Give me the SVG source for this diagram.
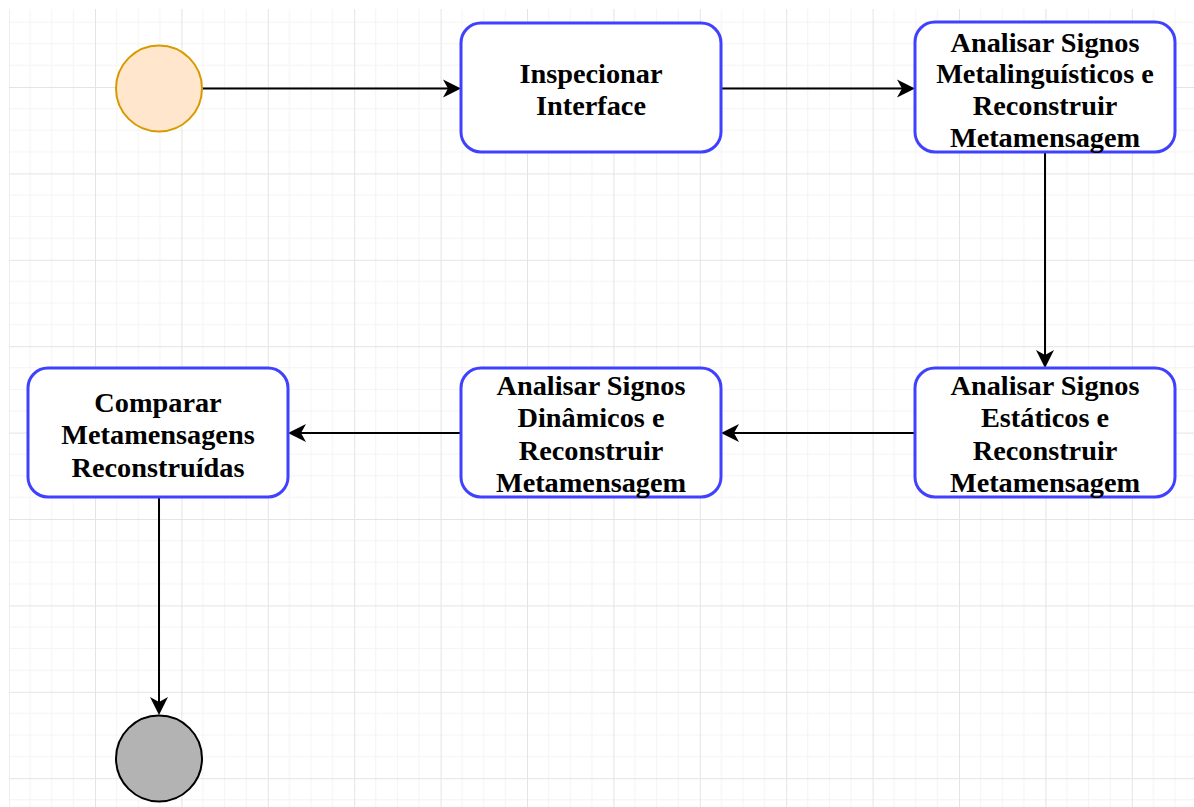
<svg xmlns="http://www.w3.org/2000/svg" width="1194" height="807" viewBox="0 0 1194 807">
<style>
.box{fill:#ffffff;stroke:#4040ff;stroke-width:3}
.lbl{font-family:"Liberation Serif","Times New Roman",serif;font-weight:bold;font-size:28.3px;fill:#000;text-anchor:middle}
.edge{fill:none;stroke:#000;stroke-width:2}
</style>
<defs>
<pattern id="grid" patternUnits="userSpaceOnUse" x="8.6" y="0.6" width="86.4" height="86.4">
<path d="M21.6,0V86.4M43.2,0V86.4M64.8,0V86.4M0,21.6H86.4M0,43.2H86.4M0,64.8H86.4" stroke="#f4f4f4" stroke-width="1" fill="none"/>
<path d="M0.5,0V86.4M0,0.5H86.4" stroke="#e4e4e4" stroke-width="1" fill="none"/>
</pattern>
<marker id="arr" viewBox="-20 -10 22 20" refX="-10" refY="0" markerWidth="22" markerHeight="20" markerUnits="userSpaceOnUse" orient="auto" overflow="visible">
<path d="M0,0 L-18,-9 L-13,0 L-18,9 Z" fill="#000"/>
</marker>
</defs>
<rect width="1194" height="807" fill="#fff"/>
<rect x="9" y="9" width="1185" height="798" fill="url(#grid)"/>
<g id="connectors">
<path class="edge" d="M202,88.5 H451" marker-end="url(#arr)"/>
<path class="edge" d="M721,88.5 H905" marker-end="url(#arr)"/>
<path class="edge" d="M1045,152 V358" marker-end="url(#arr)"/>
<path class="edge" d="M915,433 H731" marker-end="url(#arr)"/>
<path class="edge" d="M461,433 H298" marker-end="url(#arr)"/>
<path class="edge" d="M159,497 V705" marker-end="url(#arr)"/>
</g>
<g id="start">
<circle cx="159" cy="88.5" r="43" fill="#ffe6cc" stroke="#d79b00" stroke-width="2"/>
</g>
<g id="inspecionar">
<rect class="box" x="461" y="23" width="260" height="129" rx="20"/>
<text class="lbl" x="591" y="83">Inspecionar</text>
<text class="lbl" x="591" y="115">Interface</text>
</g>
<g id="metalinguisticos">
<rect class="box" x="915" y="22" width="260" height="130" rx="20"/>
<text class="lbl" x="1045" y="51.5">Analisar Signos</text>
<text class="lbl" x="1045" y="83">Metalinguísticos e</text>
<text class="lbl" x="1045" y="115">Reconstruir</text>
<text class="lbl" x="1045" y="146.5">Metamensagem</text>
</g>
<g id="estaticos">
<rect class="box" x="915" y="368" width="260" height="129" rx="20"/>
<text class="lbl" x="1045" y="395">Analisar Signos</text>
<text class="lbl" x="1045" y="427">Estáticos e</text>
<text class="lbl" x="1045" y="459.5">Reconstruir</text>
<text class="lbl" x="1045" y="491.5">Metamensagem</text>
</g>
<g id="dinamicos">
<rect class="box" x="461" y="368" width="260" height="129" rx="20"/>
<text class="lbl" x="591" y="395">Analisar Signos</text>
<text class="lbl" x="591" y="427">Dinâmicos e</text>
<text class="lbl" x="591" y="459.5">Reconstruir</text>
<text class="lbl" x="591" y="491.5">Metamensagem</text>
</g>
<g id="comparar">
<rect class="box" x="28" y="368" width="260" height="129" rx="20"/>
<text class="lbl" x="158" y="411.5">Comparar</text>
<text class="lbl" x="158" y="444">Metamensagens</text>
<text class="lbl" x="158" y="476.5">Reconstruídas</text>
</g>
<g id="end">
<circle cx="159" cy="758.5" r="43" fill="#b3b3b3" stroke="#000" stroke-width="2"/>
</g>
</svg>
